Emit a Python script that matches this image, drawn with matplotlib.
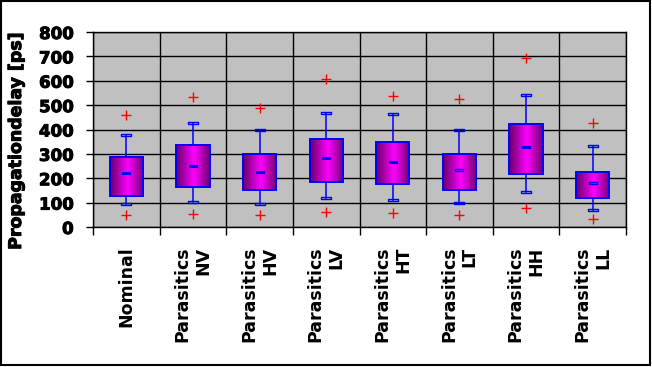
import numpy as np
import matplotlib
matplotlib.use("Agg")
import matplotlib.pyplot as plt
import matplotlib.patheffects as pe
from matplotlib.colors import LinearSegmentedColormap
from matplotlib.patches import Rectangle

# ---- data ----
categories = ["Nominal", "Parasitics\nNV", "Parasitics\nHV", "Parasitics\nLV",
              "Parasitics\nHT", "Parasitics\nLT", "Parasitics\nHH", "Parasitics\nLL"]
q1 = [127, 164, 152, 185, 178, 152, 219, 119]
q3 = [287, 335, 298, 361, 349, 299, 423, 226]
median = [220, 249, 227, 282, 268, 234, 327, 181]
whisker_lo = [96, 104, 93, 119, 111, 98, 144, 70]
whisker_hi = [377, 427, 398, 468, 464, 398, 542, 332]
outlier_hi = [459, 532, 488, 609, 539, 526, 695, 427]
outlier_lo = [48, 53, 48, 63, 57, 51, 77, 34]
median_hollow = [False, False, False, False, False, True, False, True]
yticks = [0, 100, 200, 300, 400, 500, 600, 700, 800]
ylabel = "Propagationdelay [ps]"

W, H = 652, 367
fig = plt.figure(figsize=(W / 100, H / 100), dpi=100)
fig.patch.set_facecolor("white")
ax = fig.add_axes([93 / W, (H - 227) / H, (626 - 93) / W, (227 - 32) / H])
ax.set_facecolor("#C0C0C0")

n = len(categories)
x = np.arange(n)
cmap = LinearSegmentedColormap.from_list(
    "grad", [(0.0, "#660066"), (0.53, "#FF00FF"), (1.0, "#6C006C")])
grad = np.linspace(0, 1, 256).reshape(1, -1)
hw = 0.25
blue = "#0000FF"
heavy = [pe.withStroke(linewidth=0.7, foreground="black")]

# whiskers
for i in range(n):
    ax.plot([x[i], x[i]], [q3[i], whisker_hi[i]], color=blue, lw=1.1, zorder=3)
    ax.plot([x[i], x[i]], [whisker_lo[i], q1[i]], color=blue, lw=1.1, zorder=3)

# boxes
for i in range(n):
    ax.imshow(grad, cmap=cmap, aspect="auto", interpolation="bicubic",
              extent=[x[i] - hw, x[i] + hw, q1[i], q3[i]], zorder=4)
    ax.add_patch(Rectangle((x[i] - hw, q1[i]), 2 * hw, q3[i] - q1[i],
                           fill=False, edgecolor=blue, lw=1.4, zorder=5))

cap_marker = [(-1, -0.28), (1, -0.28), (1, 0.28), (-1, 0.28), (-1, -0.28)]
dash_marker = [(-1, -0.25), (1, -0.25), (1, 0.25), (-1, 0.25), (-1, -0.25)]

ax.plot(x, whisker_hi, ls="none", marker=cap_marker, markersize=7,
        mfc="none", mec=blue, mew=1.0, zorder=6)
ax.plot(x, whisker_lo, ls="none", marker=cap_marker, markersize=7,
        mfc="none", mec=blue, mew=1.0, zorder=6)

for i in range(n):
    if median_hollow[i]:
        ax.plot(x[i], median[i], ls="none", marker=cap_marker, markersize=5.8,
                mfc="none", mec=blue, mew=1.0, zorder=7)
    else:
        ax.plot(x[i], median[i], ls="none", marker=dash_marker, markersize=6,
                mfc=blue, mec=blue, mew=0.8, zorder=7)

ax.plot(x, outlier_hi, ls="none", marker="+", markersize=7.5, color="red",
        mew=1.0, zorder=6)
ax.plot(x, outlier_lo, ls="none", marker="+", markersize=7.5, color="red",
        mew=1.0, zorder=6)

ax.set_xlim(-0.5, n - 0.5)
ax.set_ylim(0, 800)

# ticks and grid
ax.set_yticks(yticks)
ax.set_yticklabels([str(v) for v in yticks], fontsize=12, fontweight="bold",
                   family="DejaVu Sans")
for t in ax.get_yticklabels():
    t.set_path_effects(heavy)
ax.set_xticks(x)
ax.set_xticklabels(categories, rotation=90, fontsize=12.5, fontweight="bold",
                   family="DejaVu Sans", va="top", ha="center",
                   multialignment="right")
ax.set_xticks(np.arange(n + 1) - 0.5, minor=True)
ax.tick_params(axis="x", which="major", length=0, pad=14)
ax.tick_params(axis="x", which="minor", length=5.5, width=1, direction="out",
               color="black")
ax.tick_params(axis="y", which="major", length=5, width=1, direction="out",
               pad=9, color="black")
ax.grid(True, axis="y", which="major", color="black", lw=1.0, zorder=1)
ax.grid(True, axis="x", which="minor", color="black", lw=1.0, zorder=1)
ax.set_axisbelow(True)
for s in ax.spines.values():
    s.set_color("black")
    s.set_linewidth(1.0)

yl = fig.text(16 / W, 1 - 141 / H, ylabel, rotation=90, fontsize=12.5,
              fontweight="bold", family="DejaVu Sans", ha="center", va="center")
yl.set_path_effects(heavy)

# figure border
fig.patches.append(Rectangle((1 / W, 2 / H), 649 / W, 364 / H, fill=False,
                             edgecolor="black", lw=1.5,
                             transform=fig.transFigure, figure=fig))

fig.savefig("out.png", dpi=100)
